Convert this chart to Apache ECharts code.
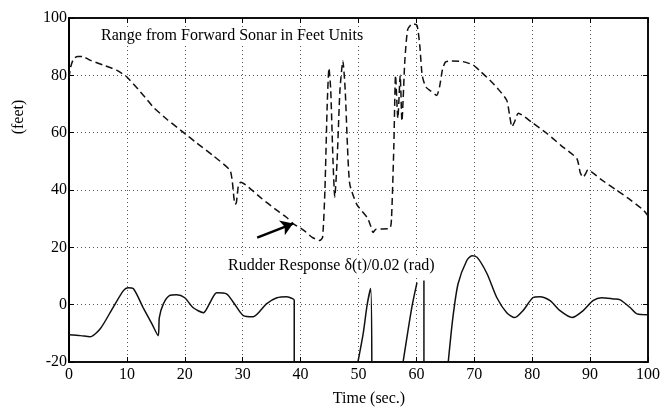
<!DOCTYPE html>
<html>
<head>
<meta charset="utf-8">
<script src="https://cdn.jsdelivr.net/npm/echarts@6/dist/echarts.min.js"></script>
<style>
html, body { margin: 0; padding: 0; background: #fff; }
#container { width: 664px; height: 407px; }
</style>
</head>
<body>
<div id="container"></div>
<script>
// range from forward sonar (feet), dashed curve
var sonarT = [0, 0.3, 0.8, 1.5, 2.5, 3.6, 6, 8.2, 10, 12, 13.5, 14.5, 17, 19.7, 22, 25, 27.8, 28.2, 28.5, 28.7, 28.9, 29.1, 29.3, 29.7,
	31, 33, 35.5, 37.6, 38.7, 40.5, 42, 43.3, 43.8, 44.2, 44.6, 44.9, 45.2, 45.6, 45.9, 46.3, 46.8, 47.3, 47.7, 48.1, 48.5,
	49.7, 51.5, 52.1, 52.5, 53, 55.4, 55.7, 56.1, 56.4, 56.8, 57.2, 57.5, 58, 58.5, 59.3, 60.1, 60.6, 61, 61.6, 62.5, 63.5,
	64, 64.5, 65, 66, 68, 69.8, 71, 72.7, 74, 75.6, 76.1, 76.5, 77, 77.6, 80, 82.5, 85, 87.7, 88.3, 88.8, 89.3, 89.6, 92,
	94.6, 97, 99.2, 100];
var sonarV = [79, 83, 85.8, 86.6, 86.5, 85.3, 83.5, 81.8, 79.4, 75, 71.5, 69, 64.5, 60.2, 56.5, 51.8, 46.9, 43, 37, 35, 35.5, 39, 42, 42.7,
	41, 37.5, 33.5, 30.4, 28.3, 26, 23.5, 22.4, 23.5, 40, 70, 82.5, 75, 50, 37.5, 50, 75, 85, 75, 55, 42,
	35, 30.4, 27.5, 25.2, 26.3, 26.6, 30, 55, 80, 65, 80, 64, 85, 96, 98, 97.5, 90, 80, 76, 74.5, 73,
	76, 82, 84.6, 85, 84.8, 83.6, 81.5, 78.3, 75.5, 71.3, 66, 62, 64, 66.8, 63.5, 59.8, 55.5, 51, 46, 44.4, 46, 47, 43.5,
	39.9, 36.5, 33, 31];

// rudder response delta(t)/0.02, solid curve; null = pen lifted
var rudderT = [0, 2, 3.6, 5.4, 7.6, 9.4, 10.2, 11.1, 12.8, 14.3, 15.4, 15.6, 16.3, 17.4, 18.6, 20, 21.4, 23.2, 24.3, 25.5, 27.2,
	28.5, 30.1, 31.8, 34.1, 35.9, 37.6, 38.7, 38.9, 38.9, 44,
	49.9, 50.8, 51.5, 52.1, 52.3, 55,
	57.7, 59.2, 60.1, 60.7,
	61.3, 61.3, 63,
	65.5, 66.3, 67.2, 68.7, 69.6, 70.5, 72.2, 73.9, 75.6, 77, 78.4, 80.1, 81.3, 83.1, 84.8, 86.9, 88.8, 90.5, 92, 94, 95.2,
	96.9, 98.1, 100];
var rudderV = [-10.5, -10.8, -11.2, -8.4, -1, 4.9, 5.9, 5.6, -1, -6.6, -10.8, -4.5, 0.3, 3.2, 3.5, 2.4, -1, -2.8, 0.5, 4.2, 3.8,
	0.5, -3.8, -4.2, 0.3, 2.4, 2.8, 2, 1.5, -20, null,
	-20, -10.2, 0, 5.6, -20, null,
	-20, -1, 7.7, null,
	8.4, -20, null,
	-20, -4.5, 7.3, 15.4, 17.1, 16.5, 10.8, 2.4, -2.8, -4.5, -2.1, 2.4, 2.8, 1.4, -2.1, -4.5, -2.1, 1.4, 2.4, 2, 1.7,
	-1, -3.2, -3.5];

// arrow pointing at the sonar curve
var arrowFrom = [32.5, 23.4];
var arrowTo = [38.7, 28.3];

var serif = '"Liberation Serif", "DejaVu Serif", serif';

function pairs(t, v) {
	var out = [];
	for (var i = 0; i < t.length; i++) {
		out.push([t[i], v[i] === null ? '-' : v[i]]);
	}
	return out;
}

var dom = document.getElementById('container');
var myChart = echarts.init(dom, null, { renderer: 'canvas' });

var grid = {
	type : [1, 3],
	color : '#555',
	width : 1
};

var option = {
	animation : false,
	backgroundColor : '#fff',
	grid : {
		left : 69,
		right : 16,
		top : 18,
		bottom : 45,
		show : true,
		borderColor : '#000',
		borderWidth : 1.5
	},
	xAxis : [ {
		type : 'value',
		min : 0,
		max : 100,
		interval : 10,
		axisLine : { show : true, onZero : false, lineStyle : { color : '#000', width : 1.5 } },
		axisTick : { inside : true, length : 5, lineStyle : { color : '#000' } },
		axisLabel : { color : '#000', fontFamily : serif, fontSize : 16, margin : 5 },
		splitLine : { show : true, lineStyle : grid }
	}, {
		type : 'value',
		position : 'top',
		min : 0,
		max : 100,
		interval : 10,
		axisLine : { show : true, onZero : false, lineStyle : { color : '#000', width : 1.5 } },
		axisTick : { inside : true, length : 5, lineStyle : { color : '#000' } },
		axisLabel : { show : false },
		splitLine : { show : false }
	} ],
	yAxis : [ {
		type : 'value',
		min : -20,
		max : 100,
		interval : 20,
		axisLine : { show : true, onZero : false, lineStyle : { color : '#000', width : 2 } },
		axisTick : { inside : true, length : 5, lineStyle : { color : '#000' } },
		axisLabel : { color : '#000', fontFamily : serif, fontSize : 16, margin : 2 },
		splitLine : { show : true, lineStyle : grid }
	}, {
		type : 'value',
		position : 'right',
		min : -20,
		max : 100,
		interval : 20,
		axisLine : { show : true, onZero : false, lineStyle : { color : '#000', width : 1.5 } },
		axisTick : { inside : true, length : 5, lineStyle : { color : '#000' } },
		axisLabel : { show : false },
		splitLine : { show : false }
	} ],
	series : [ {
		name : 'Range',
		type : 'line',
		data : pairs(sonarT, sonarV),
		symbol : 'none',
		smooth : 0.2,
		lineStyle : { color : '#111', width : 1.5, type : [7, 4] },
		markLine : {
			silent : true,
			symbol : [ 'none', 'arrow' ],
			symbolSize : 12,
			label : { show : false },
			lineStyle : { color : '#000', width : 2.5, type : 'solid' },
			data : [ [ { coord : arrowFrom }, { coord : arrowTo } ] ]
		}
	}, {
		name : 'Rudder',
		type : 'line',
		data : pairs(rudderT, rudderV),
		symbol : 'none',
		smooth : 0.25,
		connectNulls : false,
		lineStyle : { color : '#111', width : 1.5 }
	} ],
	graphic : [ {
		type : 'text',
		left : 99,
		top : 27,
		z : 100,
		style : {
			text : 'Range from Forward Sonar in Feet Units',
			font : '16px ' + serif,
			fill : '#000',
			backgroundColor : '#fff',
			padding : [1, 2]
		}
	}, {
		type : 'text',
		left : 226,
		top : 257,
		z : 100,
		style : {
			text : 'Rudder Response δ(t)/0.02 (rad)',
			font : '16px ' + serif,
			fill : '#000',
			backgroundColor : '#fff',
			padding : [1, 2]
		}
	}, {
		type : 'text',
		x : 19,
		y : 117,
		rotation : Math.PI / 2,
		style : {
			text : '(feet)',
			font : '16px ' + serif,
			fill : '#000',
			align : 'center',
			verticalAlign : 'middle',
			textAlign : 'center',
			textVerticalAlign : 'middle'
		}
	}, {
		type : 'text',
		x : 369,
		y : 399,
		style : {
			text : 'Time (sec.)',
			font : '16px ' + serif,
			fill : '#000',
			align : 'center',
			verticalAlign : 'middle',
			textAlign : 'center',
			textVerticalAlign : 'middle'
		}
	} ]
};

myChart.setOption(option);
</script>
</body>
</html>
